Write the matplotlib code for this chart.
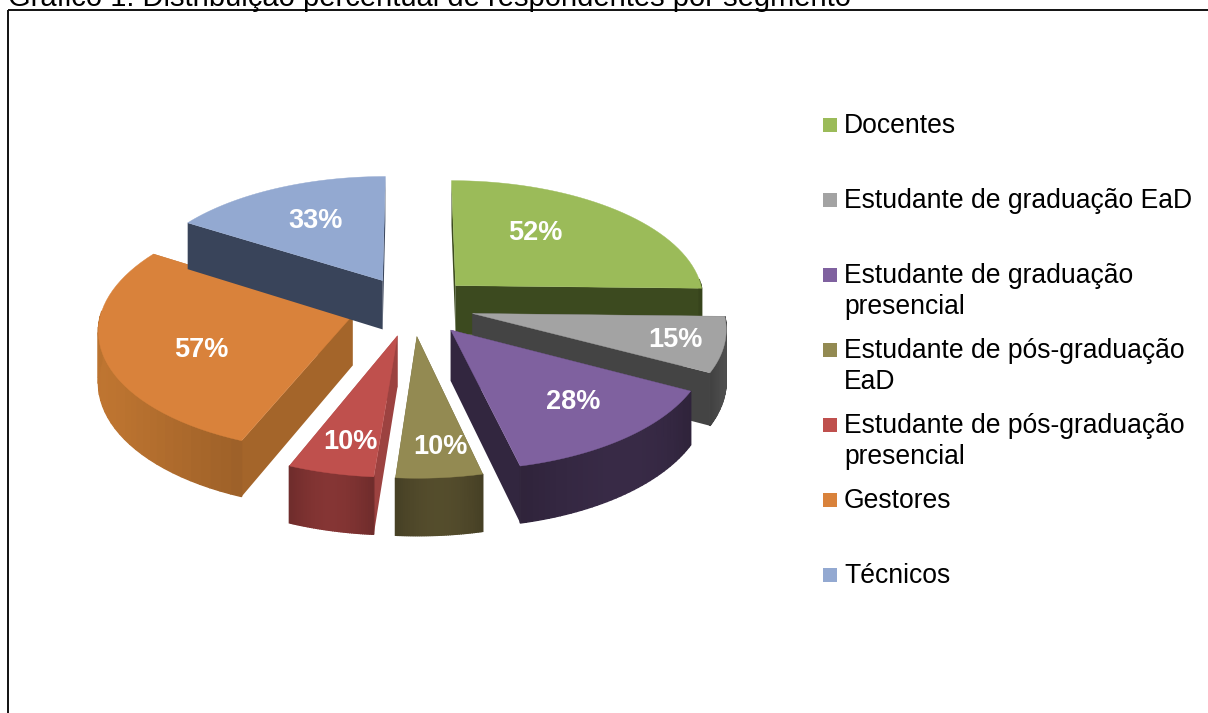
import numpy as np
import matplotlib
matplotlib.use("Agg")
import matplotlib.pyplot as plt
from matplotlib.patches import Polygon, Rectangle
from matplotlib.colors import to_rgb

plt.rcParams['font.family'] = ['Liberation Sans', 'DejaVu Sans']

title = "Gráfico 1: Distribuição percentual de respondentes por segmento"
categories = ["Docentes", "Estudante de graduação EaD", "Estudante de graduação\npresencial",
              "Estudante de pós-graduação\nEaD", "Estudante de pós-graduação\npresencial",
              "Gestores", "Técnicos"]
values = [52, 15, 28, 10, 10, 57, 33]
top_colors = ["#9bbb59", "#a3a3a3", "#7f619f", "#938a52", "#bf504d", "#d9823b", "#93a9d1"]
cut_colors = ["#3c4a1f", "#444444", "#32263f", "#4f4829", "#9c4240", "#a4652a", "#39445a"]
rim_colors = ["#3c4a1f", "#484848", "#342741", "#4e4729", "#7b3130", "#b06c2d", "#39445a"]
legend_y = [125, 200, 275, 350, 425, 500, 575]
label_xy = [(535, 233), (675, 340), (573, 402), (440, 447), (350, 442), (201, 350), (316, 221)]

W, H = 1208, 713
CX, CY = 412, 306
R, KY, DEPTH, EXPL, PERSP = 250, 0.48, 50, 62, 0.00042

def project(X, Y, Z=0.0):
    X, Y, Z = np.asarray(X, float), np.asarray(Y, float), np.asarray(Z, float)
    f = 1.0 / (1.0 + PERSP * Y)
    return CX + X * f, CY - Y * KY * f + Z * f

def shade(c, k):
    return tuple(min(1, v * k) for v in to_rgb(c))

fig = plt.figure(figsize=(W / 100, H / 100), dpi=100)
ax = fig.add_axes([0, 0, 1, 1])
ax.set_xlim(0, W)
ax.set_ylim(H, 0)
ax.axis("off")

ax.add_patch(Rectangle((7.5, 9.6), W + 20, H + 20, fill=False, ec="#111111", lw=1.4))
ax.text(8, 6, title, fontsize=21, ha="left", va="baseline", color="black")

fractions = np.array(values) / sum(values)
edges = np.concatenate([[0], np.cumsum(fractions)]) * 2 * np.pi
mids = (edges[:-1] + edges[1:]) / 2

def draw_slice(i):
    a0, a1, m = edges[i], edges[i + 1], mids[i]
    ox, oy = EXPL * np.sin(m), EXPL * np.cos(m)
    t = np.linspace(a0, a1, 41)
    ex, ey = ox + R * np.sin(t), oy + R * np.cos(t)
    sx, sy = project(ex, ey)
    bx, by = project(ex, ey, DEPTH)
    ax0, ay0 = project(ox, oy)
    ax1, ay1 = project(ox, oy, DEPTH)
    for k in (0, -1):
        ax.add_patch(Polygon([(ax0, ay0), (sx[k], sy[k]), (bx[k], by[k]), (ax1, ay1)],
                             fc=cut_colors[i], ec="none", zorder=2 + i * 0.1))
    n = len(t) - 1
    for j in range(n):
        if np.cos((t[j] + t[j + 1]) / 2) >= 0.05:
            continue
        k = 0.9 + 0.18 * np.sin(j / n * np.pi)
        col = shade(rim_colors[i], k)
        ax.add_patch(Polygon([(sx[j], sy[j]), (sx[j + 1], sy[j + 1]), (bx[j + 1], by[j + 1]), (bx[j], by[j])],
                             fc=col, ec=col, lw=1.0, zorder=2.05 + i * 0.1))
    ax.add_patch(Polygon(np.column_stack([np.r_[ax0, sx], np.r_[ay0, sy]]),
                         fc=top_colors[i], ec=top_colors[i], lw=0.3, zorder=2.08 + i * 0.1))
    ax.text(label_xy[i][0], label_xy[i][1], f"{values[i]}%", color="white", fontsize=19.5,
            fontweight="bold", ha="center", va="center", zorder=20)

for i in [0, 6, 1, 5, 2, 3, 4]:
    draw_slice(i)

for c, col, y in zip(categories, top_colors, legend_y):
    ax.add_patch(Rectangle((823, y - 7), 14, 14, fc=col, ec="none"))
    ax.text(844, y - 12, c, fontsize=19.1, ha="left", va="top", color="black", linespacing=1.27)

fig.savefig("out.png", dpi=100)
